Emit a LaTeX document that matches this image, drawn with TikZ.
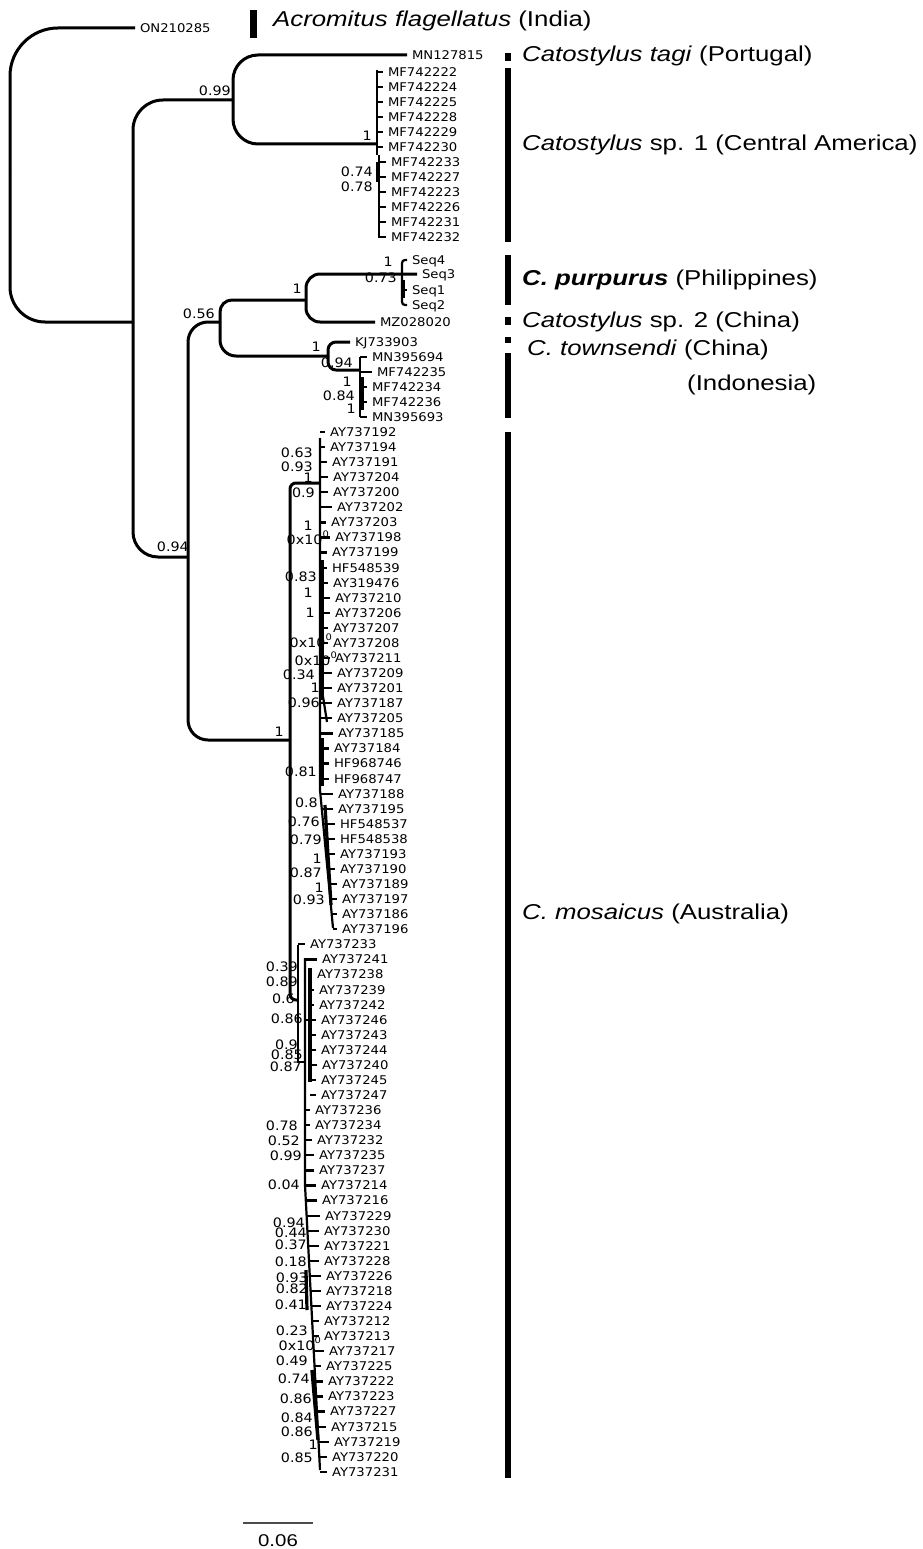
\documentclass[tikz,border=0pt]{standalone}
\usepackage{fontspec}
\setmainfont{Liberation Sans}
\newfontfamily\cladefont{Liberation Sans}[FakeStretch=1.2]
\newfontfamily\leaffont{DejaVu Sans}[FakeStretch=1.1]
\newcommand\zx{0x10\raisebox{7pt}{\fontsize{9}{9}\selectfont 0}}

\tikzset{
  branch/.style={line width=3pt, rounded corners=#1},
  branch/.default=20pt,
  twig/.style={line width=2.2pt},
  leaf/.style={font=\leaffont\fontsize{12}{12}\selectfont, anchor=west, inner sep=0pt, outer xsep=5pt, text height=8.8pt, text depth=0pt},
  supp/.style={font=\leaffont\fontsize{13}{13}\selectfont, anchor=east, inner sep=0pt, text height=9.5pt, text depth=0pt},
  clade/.style={font=\cladefont\fontsize{21.5}{21.5}\selectfont, anchor=west, inner sep=0pt, text height=15.4pt, text depth=0pt},
}

\begin{document}
\begin{tikzpicture}[x=1pt,y=-1pt]
  \useasboundingbox (0,0) rectangle (922,1549);
  % internal nodes
  \coordinate (root) at (10,175);
  \coordinate (n1) at (133,322);
  \coordinate (n099) at (233,100);
  \coordinate (nsp1) at (377,144);
  \coordinate (n094) at (188,557);
  \coordinate (n056) at (220,322);
  \coordinate (npur) at (306,300);
  \coordinate (ncp) at (402,274);
  \coordinate (ntow) at (328,356);
  \coordinate (ntsub) at (360,370);
  \coordinate (nmos) at (290,740);
  \coordinate (nA) at (320,483);
  \coordinate (nB) at (298,1000);

  % single tips
  \node[leaf] (on) at (135,28) {ON210285};
  \node[leaf] (mn1) at (407,55) {MN127815};
  \node[leaf] (seq4) at (407,260) {Seq4};
  \node[leaf] (seq3) at (417,274) {Seq3};
  \node[leaf] (seq1) at (407,290) {Seq1};
  \node[leaf] (seq2) at (407,305) {Seq2};
  \node[leaf] (mz) at (375,322) {MZ028020};
  \node[leaf] (kj) at (350,342) {KJ733903};

  % backbone
  \draw[branch=48pt] (root) |- (on.west);
  \draw[branch=35pt] (root) |- (n1);
  \draw[branch=30pt] (n1) |- (n099);
  \draw[branch=25pt] (n1) |- (n094);
  \draw[branch=25pt] (n099) |- (mn1.west);
  \draw[branch=25pt] (n099) |- (nsp1);
  \draw[branch=20pt] (n094) |- (n056);
  \draw[branch=20pt] (n094) |- (nmos);
  \draw[branch=12pt] (n056) |- (npur);
  \draw[branch=16pt] (n056) |- (ntow);
  \draw[branch=14pt] (npur) |- (seq3.west);
  \draw[branch=14pt] (npur) |- (mz.west);
  \draw[branch=8pt] (ntow) |- (kj.west);
  \draw[branch=8pt] (ntow) |- (ntsub);
  \draw[branch=6pt] (nmos) |- (nA);
  \draw[branch=6pt] (nmos) |- (nB);

  % Catostylus sp. 1
  \draw[twig] (377,70) -- (377,155);
  \draw[twig] (379,155) -- (379,238);
  \draw[line width=3.5pt] (378,162) -- (378,182);
  \foreach \lab [count=\i from 0] in {MF742222,MF742224,MF742225,MF742228,MF742229,MF742230,MF742233,MF742227,MF742223,MF742226,MF742231,MF742232}{
    \pgfmathsetmacro\yy{72+15*\i}
    \ifnum\i<6 \def\sx{377}\def\lx{388}\else \def\sx{379}\def\lx{391}\fi
    \coordinate (cs\i) at (\sx,\yy);
    \node[leaf] (c\i) at (\lx-5,\yy) {\lab};
    \draw[twig] (cs\i) -- (c\i.west);
  }

  % C. purpurus
  \draw[twig, rounded corners=3pt] (ncp) |- (seq4.west);
  \draw[twig, rounded corners=3pt] (ncp) |- (seq2.west);
  \coordinate (cp1) at (402,290);
  \draw[twig] (cp1) -- (seq1.west);
  \draw[line width=3.5pt] (403,280) -- (403,298);

  % C. townsendi
  \draw[twig] (360,357) -- (360,417);
  \draw[line width=3.5pt] (362,377) -- (362,410);
  \foreach \lab/\yy/\lx [count=\i] in {MN395694/357/372,MF742235/372/377,MF742234/387/372,MF742236/402/372,MN395693/417/372}{
    \coordinate (ts\i) at (360,\yy);
    \node[leaf] (t\i) at (\lx-5,\yy) {\lab};
    \draw[twig] (ts\i) -- (t\i.west);
  }

  % C. mosaicus
  \draw[twig] (320,438) -- (320,790) -- (333,928);
  \draw[line width=3.4pt] (322,560) -- (322,700);
  \draw[twig] (322,690) -- (327,722);
  \draw[line width=3.6pt] (322,738) -- (322,786);
  \draw[line width=3.2pt] (325,805) -- (331,905);
  \draw[twig] (298,945) -- (298,1062) -- (305,1062);
  \draw[twig] (305,958) -- (305,1185) -- (320,1470);
  \draw[line width=3.2pt] (310,968) -- (310,1082);
  \draw[twig] (305,1020) -- (310,1020);
  \draw[line width=3.4pt] (312,1370) -- (318,1440);
  \draw[line width=3.2pt] (306,1270) -- (307,1310);
  \foreach \lab/\lx [count=\i from 0] in {AY737192/330,AY737194/330,AY737191/332,AY737204/333,AY737200/333,AY737202/337,AY737203/331,AY737198/335,AY737199/332,HF548539/332,AY319476/333,AY737210/335,AY737206/335,AY737207/333,AY737208/333,AY737211/335,AY737209/337,AY737201/337,AY737187/337,AY737205/337,AY737185/338,AY737184/334,HF968746/334,HF968747/334,AY737188/338,AY737195/338,HF548537/340,HF548538/340,AY737193/340,AY737190/340,AY737189/342,AY737197/342,AY737186/342,AY737196/342,AY737233/310,AY737241/322,AY737238/317,AY737239/319,AY737242/319,AY737246/321,AY737243/321,AY737244/321,AY737240/322,AY737245/321,AY737247/321,AY737236/315,AY737234/315,AY737232/317,AY737235/319,AY737237/319,AY737214/321,AY737216/322,AY737229/325,AY737230/324,AY737221/324,AY737228/324,AY737226/326,AY737218/326,AY737224/326,AY737212/324,AY737213/324,AY737217/329,AY737225/326,AY737222/328,AY737223/328,AY737227/330,AY737215/331,AY737219/334,AY737220/332,AY737231/332}{
    \pgfmathsetmacro\yy{432+15.07*\i}
    \ifnum\i<34
      \pgfmathsetmacro\sx{max(320,320+(\yy-790)*0.094)}
    \else\ifnum\i=34 \def\sx{298}\else\ifnum\i=35 \def\sx{305}\else\ifnum\i<45 \def\sx{310}\else
      \pgfmathsetmacro\sx{max(305,305+(\yy-1185)*0.0526)}
    \fi\fi\fi\fi
    \coordinate (ms\i) at (\sx,\yy);
    \node[leaf] (m\i) at (\lx-5,\yy) {\lab};
    \draw[twig] (ms\i) -- (m\i.west);
  }

  % support values
  \foreach \v/\x/\y [count=\i] in {0.99/231/91,1/372/136,0.74/373/172,0.78/373/187,0.56/215/314,1/302/289,1/393/262,0.73/397/278,1/321/347,0.94/353/363,1/352/382,0.84/355/396,1/356/409,0.94/189/547,1/284/732,
    0.63/313/453,0.93/313/467,1/313/478,0.9/315/493,1/313/526,\zx/329/540,0.83/317/577,1/313/593,1/315/613,\zx/332/643,\zx/337/661,0.34/315/675,1/320/688,0.96/320/703,0.81/317/772,0.8/318/803,0.76/320/822,0.79/322/840,1/322/859,0.87/322/873,1/324/888,0.93/325/900,
    0.39/298/967,0.89/298/982,0.6/295/999,0.86/303/1019,0.9/298/1045,0.85/303/1055,0.87/302/1067,0.78/298/1126,0.52/300/1141,0.99/302/1156,0.04/300/1185,0.94/305/1223,0.44/307/1233,0.37/307/1245,0.18/307/1262,0.93/308/1278,0.82/308/1289,0.41/307/1305,0.23/308/1331,\zx/321/1346,0.49/308/1361,0.74/310/1379,0.86/312/1399,0.84/313/1418,0.86/313/1432,1/318/1445,0.85/313/1458}{
    \node[supp] (s\i) at (\x,\y) {\v};
  }

  % clade bars
  \fill (250,10) rectangle (257,38);
  \fill (505,53) rectangle (511,61);
  \fill (505,68) rectangle (511,242);
  \fill (505,255) rectangle (511,305);
  \fill (505,317) rectangle (511,325);
  \fill (505,337) rectangle (511,343);
  \fill (505,353) rectangle (511,418);
  \fill (505,432) rectangle (511,1478);

  % clade names
  \node[clade] (acro) at (273,19) {\textit{Acromitus flagellatus} (India)};
  \node[clade] (tagi) at (522,54) {\textit{Catostylus tagi} (Portugal)};
  \node[clade] (csp1) at (522,143) {\textit{Catostylus} sp. 1 (Central America)};
  \node[clade] (purp) at (522,278) {\textbf{\textit{C. purpurus}} (Philippines)};
  \node[clade] (csp2) at (522,320) {\textit{Catostylus} sp. 2 (China)};
  \node[clade] (town) at (527,348) {\textit{C. townsendi} (China)};
  \node[clade] (indo) at (687,383) {(Indonesia)};
  \node[clade] (mosa) at (522,912) {\textit{C. mosaicus} (Australia)};

  % scale bar
  \coordinate (sb1) at (243,1523);
  \coordinate (sb2) at (313,1523);
  \draw[line width=2pt, black!70] (sb1) -- (sb2);
  \node[font=\cladefont\fontsize{17}{17}\selectfont, inner sep=0pt] (sbl) at (278,1541) {0.06};
\end{tikzpicture}
\end{document}
